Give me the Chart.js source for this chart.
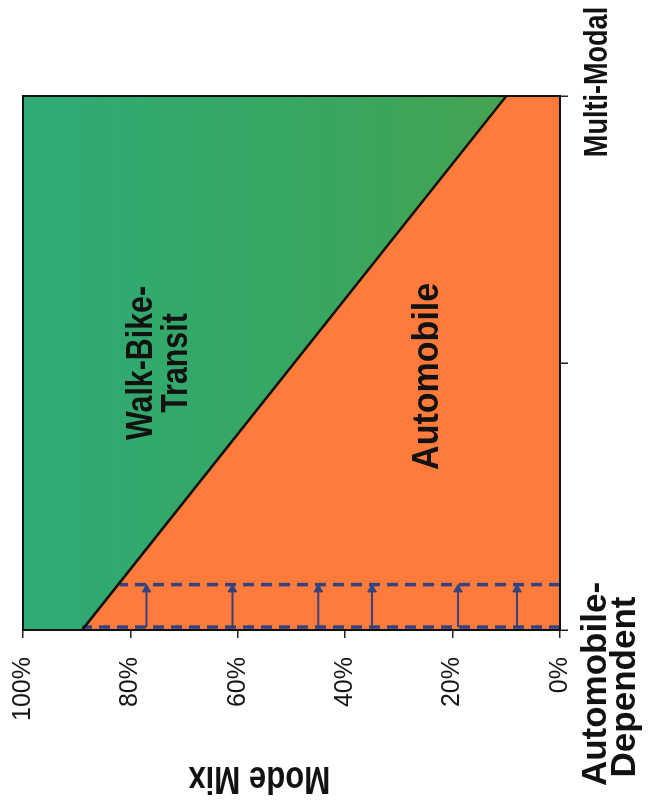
<!DOCTYPE html>
<html>
<head>
<meta charset="utf-8">
<title>Mode Mix</title>
<script src="https://cdn.jsdelivr.net/npm/chart.js@4/dist/chart.umd.min.js"></script>
<style>
  html, body { margin: 0; padding: 0; background: #fff; overflow: hidden; }
  /* chart is laid out landscape, then turned a quarter turn counter-clockwise */
  #wrap {
    position: absolute; left: 0; top: 0;
    width: 804px; height: 649px;
    transform-origin: 0 0;
    transform: translateY(804px) rotate(-90deg);
  }
</style>
</head>
<body>
<div id="wrap"><canvas id="c" width="804" height="649"></canvas></div>
<script>
// ---- data ----
const modeTicks = [0, 20, 40, 60, 80, 100];           // Mode Mix (%)
const spectrumX = [0, 2];                               // Automobile-Dependent .. Multi-Modal
const spectrumLabels = ['Automobile-\nDependent', '', 'Multi-Modal'];
const autoShare = [89, 10];                             // automobile share at each end (%)
const baseLineX = 0.011;                                // starting community
const shiftLineX = 0.17;                                // after the shift
const baseLineTop = 89;
const shiftLineTop = 82;
const arrowTipX = 0.152;
const arrowLevels = [77, 61, 45, 35, 19, 8];            // mode share carried by each arrow (%)

const NAVY = '#34437f';
const FONT = "'Liberation Sans', Arial, Helvetica, sans-serif";

const diagonal = spectrumX.map((x, i) => ({ x, y: autoShare[i] }));

function greenFill(ctx) {
  const a = ctx.chart.chartArea;
  if (!a) return '#38a868';
  const g = ctx.chart.ctx.createLinearGradient(0, a.top, 0, a.bottom);
  g.addColorStop(0, '#2eab76');
  g.addColorStop(0.55, '#38a660');
  g.addColorStop(1, '#48a24c');
  return g;
}

const datasets = [
  // boundary between the two shares
  { label: 'Boundary', data: diagonal, showLine: true, borderColor: '#111', borderWidth: 2.5,
    pointRadius: 0, fill: false, order: 0 },
  // automobile share
  { label: 'Automobile', data: diagonal, showLine: true, borderWidth: 0, borderColor: 'rgba(0,0,0,0)',
    backgroundColor: '#ff7b3b', pointRadius: 0, fill: 'origin', order: 10 },
  // walk / bike / transit share
  { label: 'Walk-Bike-Transit', data: diagonal, showLine: true, borderWidth: 0, borderColor: 'rgba(0,0,0,0)',
    backgroundColor: greenFill, pointRadius: 0, fill: 'end', order: 11 },
  // dashed markers
  { label: 'Base', data: [{ x: baseLineX, y: 0 }, { x: baseLineX, y: baseLineTop }], showLine: true,
    borderColor: NAVY, borderWidth: 3.5, borderDash: [11, 7], pointRadius: 0, fill: false, order: 2 },
  { label: 'Shift', data: [{ x: shiftLineX, y: 0 }, { x: shiftLineX, y: shiftLineTop }], showLine: true,
    borderColor: NAVY, borderWidth: 3.5, borderDash: [11, 7], pointRadius: 0, fill: false, order: 2 }
];

arrowLevels.forEach((v, i) => {
  datasets.push({
    label: 'Arrow ' + (i + 1),
    data: [{ x: baseLineX, y: v }, { x: arrowTipX, y: v }],
    showLine: true, borderColor: NAVY, borderWidth: 2, fill: false,
    pointRadius: [0, 5], pointStyle: 'triangle', rotation: 90,
    pointBackgroundColor: NAVY, pointBorderColor: NAVY, pointBorderWidth: 1,
    order: 1
  });
});

function drawText(ctx, text, cx, cy, size, squeeze, angle, weight) {
  ctx.save();
  ctx.translate(cx, cy);
  ctx.rotate(angle);
  ctx.scale(squeeze, 1);
  ctx.font = (weight || 'bold') + ' ' + size + 'px ' + FONT;
  ctx.fillStyle = '#121212';
  ctx.textAlign = 'center';
  ctx.textBaseline = 'middle';
  ctx.fillText(text, 0, 0);
  ctx.restore();
}

const frameAndText = {
  id: 'frameAndText',
  afterDatasetsDraw(chart) {
    const { ctx, chartArea: a } = chart;
    ctx.save();
    ctx.strokeStyle = '#111';
    ctx.lineWidth = 2;
    ctx.strokeRect(a.left, a.top, a.right - a.left, a.bottom - a.top);
    ctx.restore();
  },
  afterDraw(chart) {
    const { ctx, chartArea: a, scales: { x, y } } = chart;
    // region names
    drawText(ctx, 'Walk-Bike-', x.getPixelForValue(1), y.getPixelForValue(77.8), 37, 0.82, 0);
    drawText(ctx, 'Transit', x.getPixelForValue(1), y.getPixelForValue(71.3), 37, 0.82, 0);
    drawText(ctx, 'Automobile', x.getPixelForValue(0.95), y.getPixelForValue(24.6), 37, 0.92, 0);
    // spectrum end labels
    const first = spectrumLabels[0].split('\n');
    drawText(ctx, first[0], x.getPixelForValue(0) - 54, a.bottom + 36, 35, 1.0, 0);
    drawText(ctx, first[1], x.getPixelForValue(0) - 57, a.bottom + 65, 35, 1.0, 0);
    drawText(ctx, spectrumLabels[2], x.getPixelForValue(2) + 14, a.bottom + 38, 33, 0.82, 0);
    // value axis title
    drawText(ctx, 'Mode Mix', 27, y.getPixelForValue(56), 38, 0.82, -Math.PI / 2);
  }
};

new Chart(document.getElementById('c'), {
  type: 'scatter',
  data: { datasets },
  options: {
    responsive: false,
    devicePixelRatio: 1,
    animation: false,
    layout: { padding: { top: 23, right: 96, left: 0, bottom: 0 } },
    plugins: { legend: { display: false }, tooltip: { enabled: false } },
    scales: {
      x: {
        type: 'linear', min: spectrumX[0], max: spectrumX[1],
        afterBuildTicks: s => { s.ticks = [0, 1, 2].map(v => ({ value: v })); },
        ticks: { callback: () => '' },
        grid: { drawOnChartArea: false, drawTicks: true, tickLength: 8, color: '#222', lineWidth: 1.5 },
        border: { display: true, color: '#111', width: 2 },
        afterFit: s => { s.height = 89; s.paddingLeft = 0; s.paddingRight = 0; }
      },
      y: {
        type: 'linear', min: 0, max: 100,
        afterBuildTicks: s => { s.ticks = modeTicks.map(v => ({ value: v })); },
        ticks: { callback: v => v + '%', font: { family: FONT, size: 25 }, color: '#151515', padding: 19 },
        grid: { drawOnChartArea: false, drawTicks: true, tickLength: 8, color: '#222', lineWidth: 1.5 },
        border: { display: true, color: '#111', width: 2 },
        afterFit: s => { s.width = 174; s.paddingTop = 0; s.paddingBottom = 0; }
      }
    }
  },
  plugins: [frameAndText]
});
</script>
</body>
</html>
